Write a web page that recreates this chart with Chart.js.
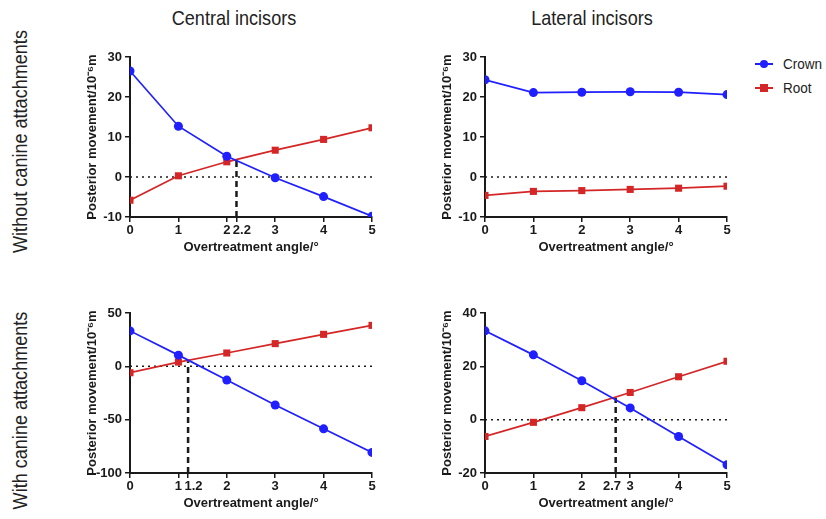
<!DOCTYPE html>
<html>
<head>
<meta charset="utf-8">
<script src="https://cdn.jsdelivr.net/npm/chart.js@4/dist/chart.umd.min.js"></script>
<style>
  body { margin: 0; background: #fff; width: 826px; height: 519px; position: relative; overflow: hidden; font-family: Arial, "Liberation Sans", sans-serif; color: #222; }
  canvas { position: absolute; }
  .coltitle { position: absolute; font-size: 21px; line-height: 21px; top: 7px; width: 200px; text-align: center; transform: scaleX(0.86); }
  .rowtitle { position: absolute; font-size: 21px; line-height: 21px; height: 21px; width: 280px; text-align: center; white-space: nowrap; transform: rotate(-90deg) scaleX(0.86); transform-origin: center center; }
  .leg { position: absolute; font-size: 15px; height: 18px; line-height: 18px; }
  .leg .ln { position: absolute; left: 0; top: 8px; width: 18px; height: 2px; }
  .leg .mk { position: absolute; left: 5px; top: 5px; width: 8px; height: 8px; }
  .leg .tx { position: absolute; left: 28px; top: 0; transform: scaleX(0.9); transform-origin: left center; }
</style>
</head>
<body>
<div class="coltitle" style="left:134px">Central incisors</div>
<div class="coltitle" style="left:492px">Lateral incisors</div>
<div class="rowtitle" style="left:-121px; top:130.5px">Without canine attachments</div>
<div class="rowtitle" style="left:-121px; top:399.5px">With canine attachments</div>

<div class="leg" style="left:755px; top:55px; width:70px">
  <div class="ln" style="background:#1f1fff"></div>
  <div class="mk" style="background:#1f1fff; border-radius:50%"></div>
  <div class="tx">Crown</div>
</div>
<div class="leg" style="left:755px; top:79px; width:70px">
  <div class="ln" style="background:#d42626"></div>
  <div class="mk" style="background:#d42626"></div>
  <div class="tx">Root</div>
</div>

<canvas id="c1" width="320" height="220" style="left:75px; top:40px"></canvas>
<canvas id="c2" width="320" height="220" style="left:430px; top:40px"></canvas>
<canvas id="c3" width="320" height="226" style="left:75px; top:290px"></canvas>
<canvas id="c4" width="320" height="226" style="left:430px; top:290px"></canvas>

<script>
// overtreatment angles (°)
var angles = [0, 1, 2, 3, 4, 5];

// without canine attachments
var centralWithoutCrown = [26.5, 12.7, 5.2, -0.2, -4.9, -9.8];
var centralWithoutRoot  = [-5.8, 0.3, 3.8, 6.7, 9.4, 12.3];
var lateralWithoutCrown = [24.3, 21.1, 21.2, 21.3, 21.2, 20.6];
var lateralWithoutRoot  = [-4.6, -3.6, -3.4, -3.1, -2.8, -2.3];

// with canine attachments
var centralWithCrown = [33.2, 10.5, -12.9, -36.2, -58.6, -80.7];
var centralWithRoot  = [-6.0, 4.0, 12.5, 21.3, 30.0, 38.4];
var lateralWithCrown = [33.3, 24.3, 14.6, 4.4, -6.3, -16.9];
var lateralWithRoot  = [-6.3, -1.0, 4.5, 10.2, 16.1, 21.9];

// crossing points (angle, movement) marked with a dashed line, and how its tick label is written
var crossCentralWithout = [2.2, 4.3, '   2.2'];
var crossCentralWith    = [1.2, 4.8, '   1.2'];
var crossLateralWith    = [2.7, 8.2, '2.7  '];

// y axis ranges [min, max, step]
var yCentralWithout = [-10, 30, 10];
var yLateralWithout = [-10, 30, 10];
var yCentralWith    = [-100, 50, 50];
var yLateralWith    = [-20, 40, 20];

var CROWN = '#1f1fff';
var ROOT = '#d42626';
var AXIS = '#1a1a1a';
var FONT = 'Arial, "Liberation Sans", sans-serif';

function pts(ys) {
    return angles.map(function (a, i) { return { x: a, y: ys[i] }; });
}

function makeChart(id, crown, root, yr, cross, top) {
    var datasets = [
        { label: 'Crown', data: pts(crown), borderColor: CROWN, backgroundColor: CROWN, borderWidth: 1.7,
          pointStyle: 'circle', pointRadius: 4.5, pointBorderWidth: 0 },
        { label: 'Root', data: pts(root), borderColor: ROOT, backgroundColor: ROOT, borderWidth: 1.7,
          pointStyle: 'rect', pointRadius: 5, pointBorderWidth: 0 },
        { label: 'zero', data: [{ x: 0, y: 0 }, { x: 5, y: 0 }], borderColor: AXIS, borderWidth: 1.5,
          borderDash: [2, 4], pointRadius: 0 }
    ];
    var xTicks = angles.slice();
    if (cross) {
        datasets.push({ label: 'cross', data: [{ x: cross[0], y: yr[0] }, { x: cross[0], y: cross[1] }],
            borderColor: AXIS, borderWidth: 2.5, borderDash: [6, 4], pointRadius: 0 });
        xTicks.push(cross[0]);
        xTicks.sort(function (a, b) { return a - b; });
    }
    return new Chart(document.getElementById(id), {
        type: 'line',
        data: { datasets: datasets },
        options: {
            responsive: false,
            animation: false,
            layout: { padding: { top: top, right: 23, bottom: 0, left: 0 } },
            plugins: { legend: { display: false }, tooltip: { enabled: false } },
            scales: {
                x: {
                    type: 'linear', min: 0, max: 5,
                    afterBuildTicks: function (s) { s.ticks = xTicks.map(function (v) { return { value: v }; }); },
                    afterFit: function (s) { s.height = 43; },
                    grid: { drawOnChartArea: false, drawTicks: true, tickLength: 5, color: AXIS, lineWidth: 1.5 },
                    border: { color: AXIS, width: 2 },
                    ticks: { autoSkip: false, maxRotation: 0, padding: 1, color: '#1a1a1a',
                             font: { family: FONT, size: 13, weight: 'bold' },
                             callback: function (v) { return (cross && v === cross[0]) ? cross[2] : String(v); } },
                    title: { display: true, text: 'Overtreatment angle/°', color: '#1a1a1a',
                             font: { family: FONT, size: 13, weight: 'bold' }, padding: { top: 0, bottom: 5 } }
                },
                y: {
                    min: yr[0], max: yr[1],
                    ticks: { stepSize: yr[2], padding: 3, color: '#1a1a1a',
                             font: { family: FONT, size: 13, weight: 'bold' } },
                    afterFit: function (s) { s.width = 55; },
                    grid: { drawOnChartArea: false, drawTicks: true, tickLength: 5, color: AXIS, lineWidth: 1.5 },
                    border: { color: AXIS, width: 2 },
                    title: { display: true, text: 'Posterior movement/10⁻⁶m', color: '#1a1a1a',
                             font: { family: FONT, size: 13, weight: 'bold' }, padding: { top: 10, bottom: 0 } }
                }
            }
        }
    });
}

makeChart('c1', centralWithoutCrown, centralWithoutRoot, yCentralWithout, crossCentralWithout, 17);
makeChart('c2', lateralWithoutCrown, lateralWithoutRoot, yLateralWithout, null, 17);
makeChart('c3', centralWithCrown, centralWithRoot, yCentralWith, crossCentralWith, 23);
makeChart('c4', lateralWithCrown, lateralWithRoot, yLateralWith, crossLateralWith, 23);
</script>
</body>
</html>
